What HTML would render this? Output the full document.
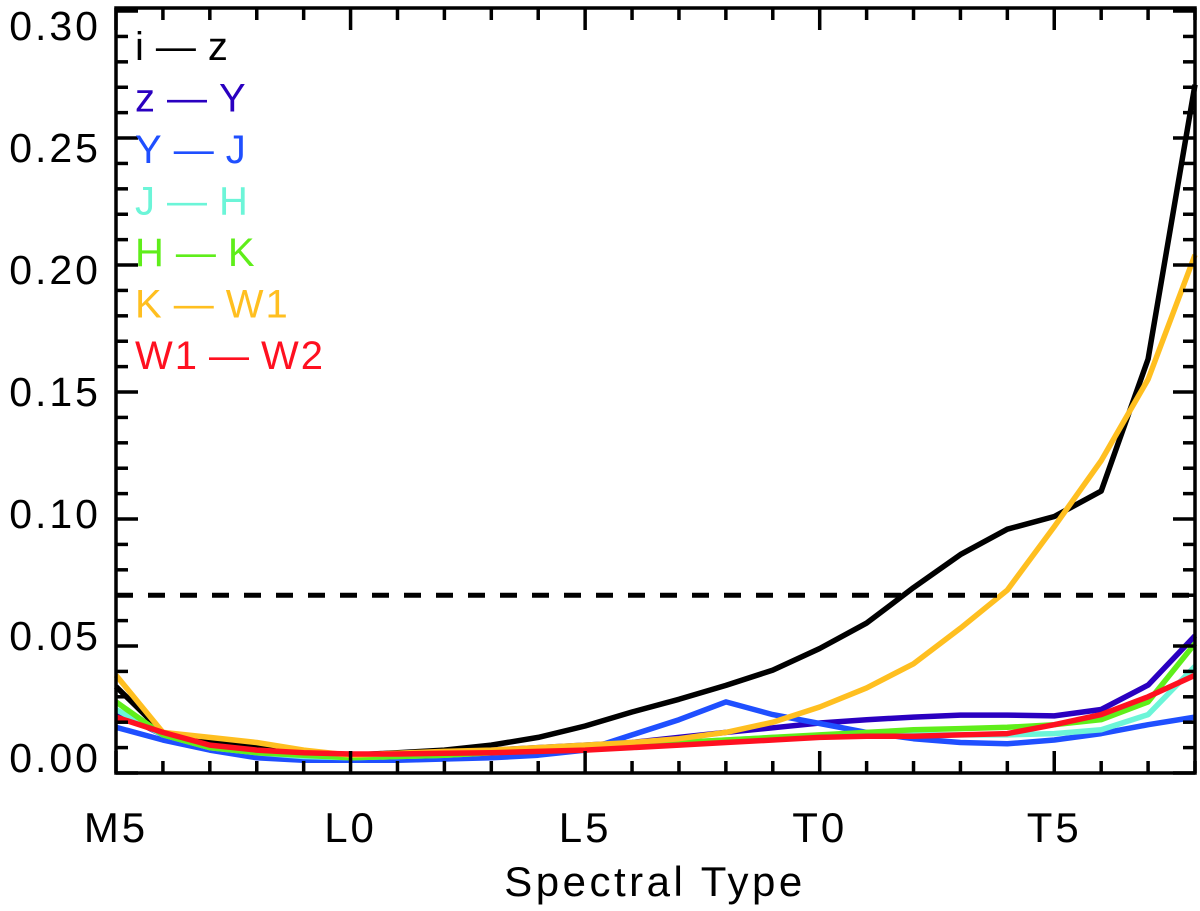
<!DOCTYPE html>
<html><head><meta charset="utf-8"><style>
html,body{margin:0;padding:0;background:#fff;}
svg{display:block;font-family:"Liberation Sans",sans-serif;}
</style></head><body>
<svg id="chart" width="1200" height="911" viewBox="0 0 1200 911" xmlns="http://www.w3.org/2000/svg"></svg>
<script>
const categories=["M5","M6","M7","M8","M9","L0","L1","L2","L3","L4","L5","L6","L7","L8","L9","T0","T1","T2","T3","T4","T5","T6","T7","T8"];
const xTickLabels=["M5","L0","L5","T0","T5"];
const yTicks=[0,0.05,0.10,0.15,0.20,0.25,0.30];
const yTickLabels=["0.00","0.05","0.10","0.15","0.20","0.25","0.30"];
const threshold=0.07;
const seriesNames=["i-z","z-Y","Y-J","J-H","H-K","K-W1","W1-W2"];
const seriesColors=["#000000","#2a00c0","#1f4fff","#6cf5d8","#5fee1a","#ffbf20","#ff1020"];
const sIZ=[0.034,0.016,0.012,0.010,0.0075,0.007,0.008,0.009,0.011,0.014,0.0185,0.024,0.029,0.0345,0.0405,0.049,0.059,0.073,0.086,0.096,0.101,0.111,0.163,0.271];
const sZY=[0.024,0.015,0.010,0.008,0.007,0.0065,0.007,0.008,0.009,0.010,0.011,0.012,0.014,0.016,0.0178,0.0197,0.021,0.022,0.0228,0.0228,0.0225,0.025,0.0346,0.054];
const sYJ=[0.018,0.013,0.009,0.006,0.005,0.005,0.005,0.0055,0.006,0.007,0.009,0.015,0.021,0.028,0.023,0.0195,0.016,0.0135,0.012,0.0115,0.013,0.0155,0.019,0.022];
const sJH=[0.025,0.015,0.010,0.008,0.0065,0.006,0.0065,0.007,0.008,0.009,0.010,0.011,0.012,0.013,0.014,0.0145,0.015,0.015,0.015,0.015,0.0155,0.017,0.023,0.042];
const sHK=[0.028,0.015,0.010,0.008,0.007,0.006,0.0065,0.007,0.008,0.009,0.010,0.011,0.012,0.013,0.014,0.015,0.016,0.017,0.0175,0.018,0.019,0.021,0.028,0.051];
const sKW=[0.0385,0.016,0.014,0.012,0.009,0.007,0.0078,0.0085,0.009,0.010,0.011,0.012,0.0135,0.016,0.020,0.026,0.0335,0.043,0.057,0.072,0.097,0.123,0.155,0.204];
const sW=[0.022,0.016,0.011,0.009,0.008,0.0075,0.0075,0.0078,0.008,0.0085,0.009,0.010,0.011,0.012,0.013,0.014,0.0145,0.0145,0.015,0.0155,0.019,0.023,0.030,0.0385];
const allSeries=[sIZ,sZY,sYJ,sJH,sHK,sKW,sW];

const L=116,R=1195,T=8,B=773,YMAX=0.3012;
const x=i=>L+i*(R-L)/(categories.length-1);
const y=v=>B-v/YMAX*(B-T);
const svg=document.getElementById('chart');
const NS='http://www.w3.org/2000/svg';
function mk(tag,attrs,parent){const e=document.createElementNS(NS,tag);for(const k in attrs)e.setAttribute(k,attrs[k]);(parent||svg).appendChild(e);return e;}

allSeries.forEach((s,si)=>{
  const d=s.map((v,i)=>(i?'L':'M')+x(i).toFixed(1)+' '+y(v).toFixed(1)).join(' ');
  const p=mk('path',{d:d,fill:'none',stroke:seriesColors[si],'stroke-width':5.5,'stroke-linejoin':'round'});
  
  
});
const th=mk('line',{x1:L,x2:R,y1:y(threshold),y2:y(threshold),stroke:'#000','stroke-width':5,'stroke-dasharray':'17 15'});



const fr=mk('rect',{x:L,y:T,width:R-L,height:B-T,fill:'none',stroke:'#000','stroke-width':3.5});


for(let k=0;k<=30;k++){
  const v=k*0.01,yy=y(v),len=(k%5===0)?22:12;
  mk('line',{x1:L,x2:L+len,y1:yy,y2:yy,stroke:'#000','stroke-width':3.5});
  mk('line',{x1:R,x2:R-len,y1:yy,y2:yy,stroke:'#000','stroke-width':3.5});
}
yTicks.forEach((v,i)=>{
  const t=mk('text',{x:101,y:(757-v/0.30*732)+15,'text-anchor':'end','font-size':41,'letter-spacing':3});
  t.textContent=yTickLabels[i];
  
  
});
categories.forEach((c,i)=>{
  const xx=x(i),len=(i%5===0)?22:12;
  mk('line',{x1:xx,x2:xx,y1:B,y2:B-len,stroke:'#000','stroke-width':3.5});
  mk('line',{x1:xx,x2:xx,y1:T,y2:T+len,stroke:'#000','stroke-width':3.5});
});
xTickLabels.forEach((lab,j)=>{
  const t=mk('text',{x:x(j*5),y:842,'text-anchor':'middle','font-size':42,'letter-spacing':3});
  t.textContent=lab;
  
  
});
const xt=mk('text',{x:655,y:896,'text-anchor':'middle','font-size':42,'letter-spacing':3.5});
xt.textContent='Spectral Type';


seriesNames.forEach((n,i)=>{
  const t=mk('text',{x:135,y:60+i*51.5,'font-size':40,fill:seriesColors[i],'letter-spacing':2});
  t.textContent=n.replace(/-/g,'\u2009\u2014\u2009');
  
  
});
</script>
</body></html>
